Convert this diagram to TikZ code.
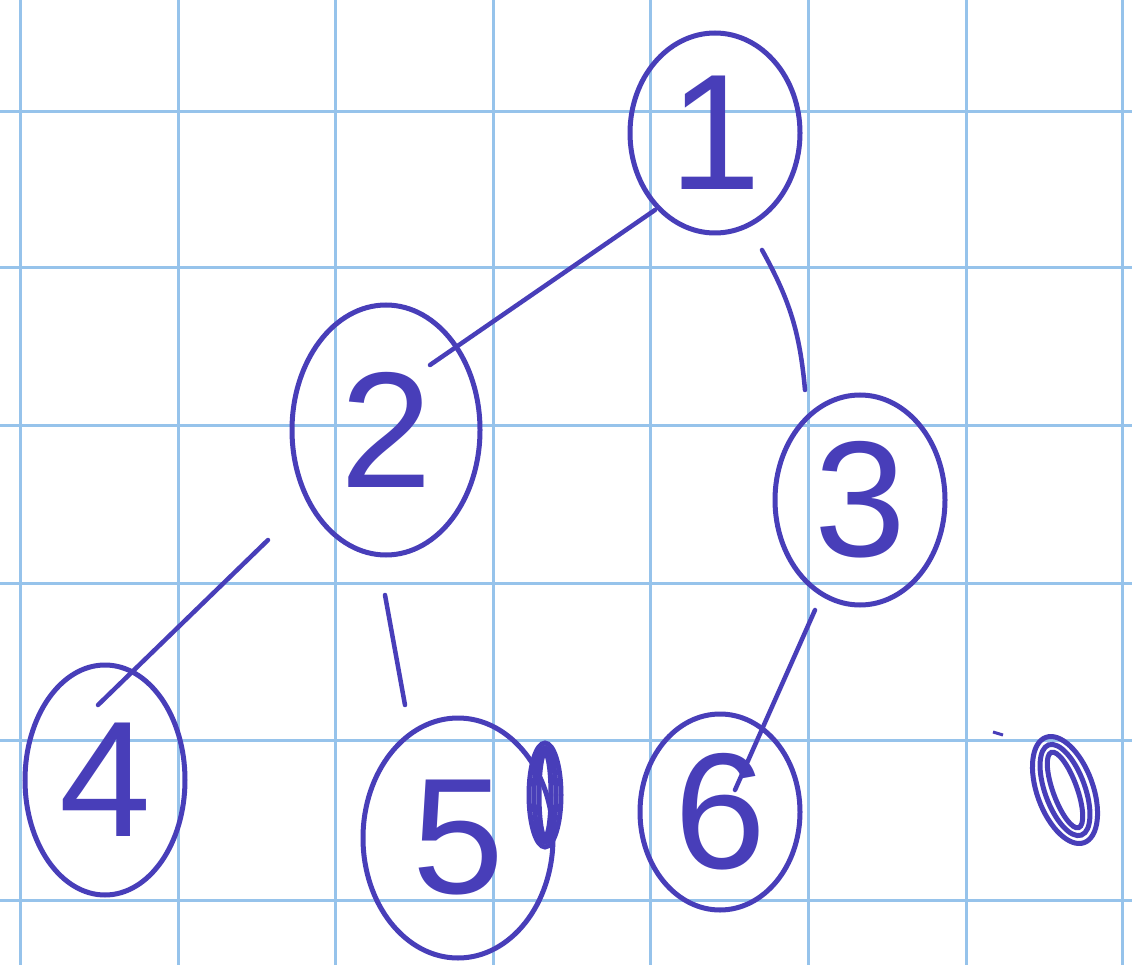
\documentclass[tikz,border=0pt]{standalone}
\usepackage{fontspec}
\setsansfont{Liberation Sans}
\usetikzlibrary{shapes.geometric,calc}
\definecolor{ink}{RGB}{72,62,185}
\definecolor{gridblue}{RGB}{150,195,235}
\tikzset{
  vert/.style={ellipse,draw=ink,line width=5pt,inner sep=0pt,text=ink,
    font=\sffamily\fontsize{165}{165}\selectfont},
  edge/.style={draw=ink,line width=4.5pt,line cap=round},
  gridline/.style={draw=gridblue,line width=3pt},
  scrib/.style={draw=ink,line width=5pt}
}
\begin{document}
\begin{tikzpicture}[x=1pt,y=-1pt]
\fill[white] (0,0) rectangle (1132,965);
\useasboundingbox (0,0) rectangle (1132,965);
% grid
\foreach \gx in {20,178,335,493,650,808,966,1122}
  \draw[gridline] (\gx,0) -- (\gx,965);
\foreach \gy in {112,268,425,583,740,900}
  \draw[gridline] (0,\gy) -- (1132,\gy);
% vertices
\node[vert,minimum width=170,minimum height=200] (n1) at (715,133) {1};
\node[vert,minimum width=188,minimum height=250] (n2) at (386,430) {2};
\node[vert,minimum width=170,minimum height=210] (n3) at (860,500) {3};
\node[vert,minimum width=160,minimum height=230] (n4) at (105,780) {4};
\node[vert,minimum width=190,minimum height=240] (n5) at (458,838) {5};
\node[vert,minimum width=160,minimum height=196] (n6) at (720,812) {6};
% edges
\draw[edge] ($(n1)+(-60,77)$) -- ($(n2)+(44,-65)$);
\draw[edge] ($(n1)+(47,117)$) to[bend left=12] ($(n3)+(-55,-110)$);
\draw[edge] ($(n2)+(-118,110)$) -- ($(n4)+(-7,-75)$);
\draw[edge] ($(n2)+(-1,165)$) -- ($(n5)+(-53,-133)$);
\draw[edge] ($(n3)+(-45,110)$) -- ($(n6)+(15,-22)$);
% scribbles
\foreach \r in {0,5,10}
  \draw[scrib] (545,795) ellipse [x radius=16-\r, y radius=52-\r];
\begin{scope}[shift={(1065,790)},rotate=20]
  \foreach \r in {0,8,16}
    \draw[scrib] (0,0) ellipse [x radius=28-\r, y radius=56-\r];
\end{scope}
\draw[scrib,line width=3pt] (993,732) -- (1003,735);
\end{tikzpicture}
\end{document}
